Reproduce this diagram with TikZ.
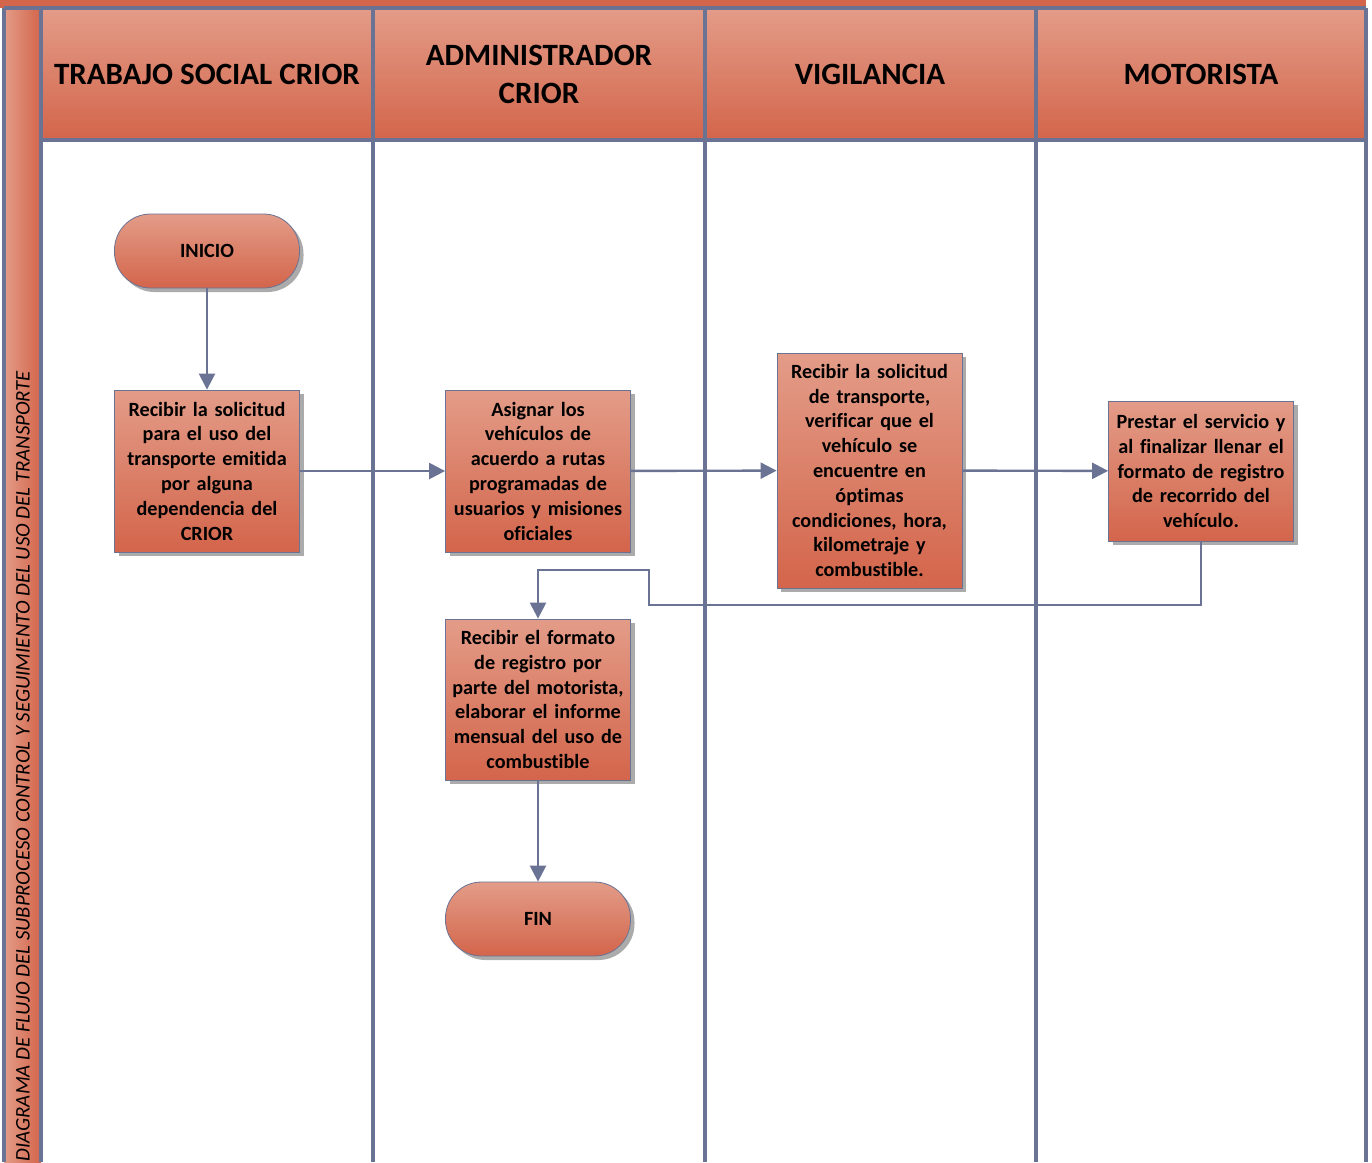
\documentclass[tikz,border=0pt]{standalone}
\usepackage{fontspec}
\setmainfont{Carlito}[Ligatures=NoCommon]
\usetikzlibrary{arrows.meta,shadows}
\definecolor{lanegray}{HTML}{6B7394}
\definecolor{salmonlight}{HTML}{E39C88}
\definecolor{salmondark}{HTML}{D3654B}
\begin{document}
\begin{tikzpicture}[x=1pt,y=-1pt,
  lane/.style={draw=lanegray,line width=3.5pt},
  headcell/.style={top color=salmonlight,bottom color=salmondark},
  headtext/.style={font=\bfseries\fontsize{31}{38}\selectfont,align=center,text=black},
  process/.style={draw=lanegray,line width=0.8pt,top color=salmonlight,bottom color=salmondark,
    drop shadow={shadow xshift=4pt,shadow yshift=-4pt,fill=black!55,opacity=.6},
    minimum width=185pt,inner sep=0pt,text width=180pt,align=center,
    font=\bfseries\fontsize{20.2}{24.8}\selectfont},
  terminal/.style={process,rounded corners=36pt,minimum height=74pt},
  flow/.style={draw=lanegray,line width=2.4pt,-{Triangle[length=16pt,width=16pt]}}]
\useasboundingbox (0,0) rectangle (1372,1162);

% title band and swim-lane headers
\fill[salmondark] (0,0) rectangle (1366,8);
\shade[left color=salmonlight,right color=salmondark] (4,8) rectangle (41,1162);
\foreach \xa/\xb in {41/373,373/705,705/1036,1036/1366}
  \shade[headcell] (\xa,8) rectangle (\xb,140);

% lane grid
\draw[lane] (4,8) -- (1366,8);
\draw[lane] (41,140) -- (1366,140);
\foreach \x in {4,41,373,705,1036,1366}
  \draw[lane] (\x,8) -- (\x,1162);

\node[headtext] (h1) at (207,74) {TRABAJO SOCIAL CRIOR};
\node[headtext] (h2) at (539,74) {ADMINISTRADOR\\CRIOR};
\node[headtext] (h3) at (870,74) {VIGILANCIA};
\node[headtext] (h4) at (1201,74) {MOTORISTA};

\node[rotate=90,font=\itshape\fontsize{20.8}{24}\selectfont] (title) at (23,766)
  {DIAGRAMA DE FLUJO DEL SUBPROCESO CONTROL Y SEGUIMIENTO DEL USO DEL TRANSPORTE};

% process steps
\node[terminal] (inicio) at (207,251) {INICIO};
\node[process,minimum height=162pt] (b1) at (207,471)
  {Recibir la solicitud\\para el uso del\\transporte emitida\\por alguna\\dependencia del\\CRIOR};
\node[process,minimum height=162pt] (b2) at (538,471)
  {Asignar los\\veh\'iculos de\\acuerdo a rutas\\programadas de\\usuarios y misiones\\oficiales};
\node[process,minimum height=235pt] (b3) at (869.5,470.5)
  {Recibir la solicitud\\de transporte,\\verificar que el\\veh\'iculo se\\encuentre en\\\'optimas\\condiciones, hora,\\kilometraje y\\combustible.};
\node[process,minimum height=140pt] (b4) at (1201,471)
  {Prestar el servicio y\\al finalizar llenar el\\formato de registro\\de recorrido del\\veh\'iculo.};
\node[process,minimum height=161pt] (b5) at (538,699.5)
  {Recibir el formato\\de registro por\\parte del motorista,\\elaborar el informe\\mensual del uso de\\combustible};
\node[terminal] (fin) at (538,919) {FIN};

% connectors
\coordinate (t1) at (649,605);
\coordinate (t2) at (649,570);
\draw[flow] (inicio) -- (b1);
\draw[flow] (b1) -- (b2);
\draw[flow] (b2) -- (b3);
\draw[flow] (b3) -- (b4);
\draw[flow] (b4.south) |- (t1) -- (t2) -| (b5.north);
\draw[flow] (b5) -- (fin);
\end{tikzpicture}
\end{document}
